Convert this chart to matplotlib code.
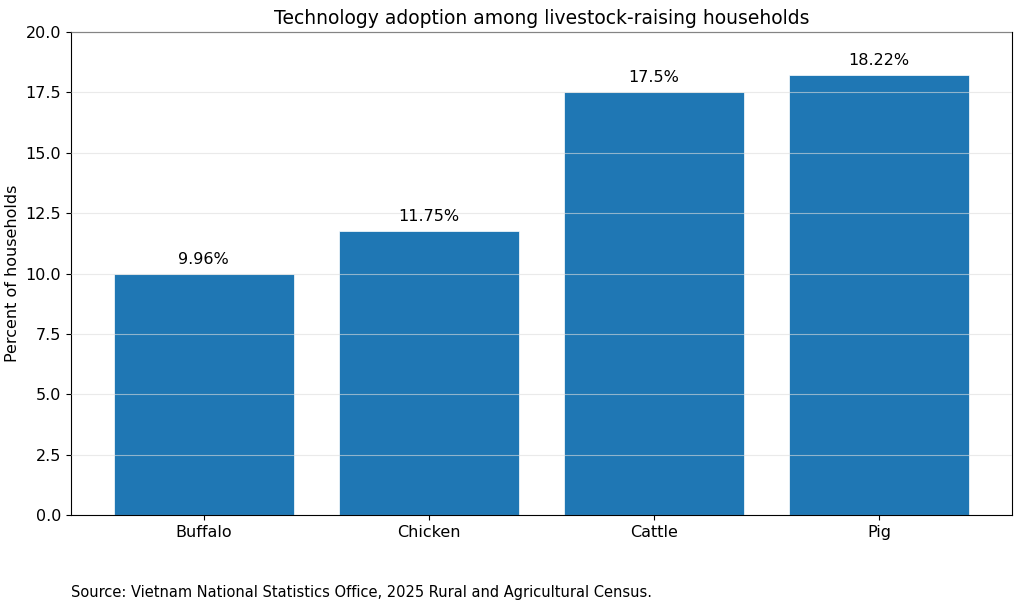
import matplotlib
matplotlib.use("Agg")
import matplotlib.pyplot as plt

categorias = ["Buffalo", "Chicken", "Cattle", "Pig"]
valores = [9.96, 11.75, 17.5, 18.22]
rotulos = ["9.96%", "11.75%", "17.5%", "18.22%"]

fig = plt.figure(figsize=(10.23, 6.1), dpi=100)
ax = fig.add_axes([0.0694, 0.1557, 0.9196, 0.7918])
barras = ax.bar(categorias, valores, width=0.8, color="#1f77b4", edgecolor="white", linewidth=0.5)
for b, t in zip(barras, rotulos):
    ax.text(b.get_x() + b.get_width() / 2, b.get_height() + 0.3, t,
            ha="center", va="bottom", fontsize=11.5)

ax.set_ylim(0, 20)
ax.set_yticks([0, 2.5, 5, 7.5, 10, 12.5, 15, 17.5, 20])
ax.set_axisbelow(False)
ax.grid(axis="y", color="#dddddd", alpha=0.6, lw=0.8)
ax.set_ylabel("Percent of households", fontsize=11.5)
ax.set_title("Technology adoption among livestock-raising households", fontsize=13.5)
ax.tick_params(labelsize=11.5)
fig.text(0.0694, 0.029, "Source: Vietnam National Statistics Office, 2025 Rural and Agricultural Census.",
         fontsize=10.5, ha="left", va="center")

fig.savefig("out.png", dpi=100)
